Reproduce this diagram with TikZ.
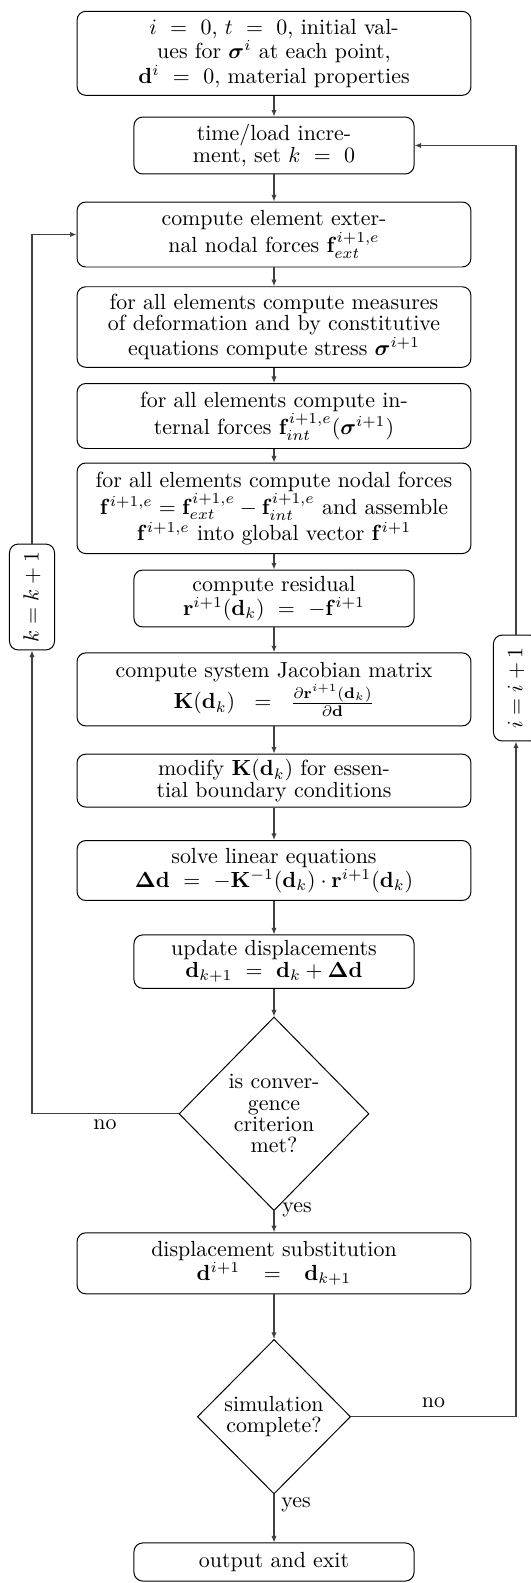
\documentclass[tikz,border=0pt]{standalone}
\usepackage{amsmath}
\usetikzlibrary{shapes.geometric,arrows.meta}

\tikzset{
  basefont/.style={font=\fontsize{10}{9.75}\selectfont},
  procbox/.style={draw=black, line width=0.45pt, rounded corners=4pt, align=center,
    inner sep=0pt, basefont, minimum height=#1},
  widebox/.style={procbox=#1, minimum width=180pt},
  narrowbox/.style={procbox=#1, minimum width=128pt},
  decision/.style={draw=black, line width=0.45pt, diamond, align=center, inner sep=0pt,
    basefont},
  counter/.style={draw=black, line width=0.45pt, rounded corners=4pt, rotate=90,
    inner sep=0pt, minimum width=48.4pt, minimum height=20.6pt, basefont},
  lbl/.style={inner sep=0pt, basefont},
  arr/.style={draw=black!75, line width=0.5pt, -{Latex[length=3pt,width=2.4pt]}},
}

\begin{document}
\begin{tikzpicture}[x=0.457pt, y=-0.457pt]
  \useasboundingbox (0,0) rectangle (531,1583);

  % main chain of steps
  \node[widebox=38.4pt] (init) at (274,53.3)
    {$i\ =\ 0$, $t\ =\ 0$, initial val-\\ues for $\boldsymbol{\sigma}^i$ at each point,\\$\mathbf{d}^i\ =\ 0$, material properties};
  \node[narrowbox=26pt] (incr) at (274,145.5)
    {time/load incre-\\ment, set $k\ =\ 0$};
  \node[widebox=29.7pt] (fext) at (274,234.5)
    {compute element exter-\\nal nodal forces $\mathbf{f}^{i+1,e}_{ext}$};
  \node[widebox=36.8pt] (stress) at (274,327)
    {for all elements compute measures\\of deformation and by constitutive\\equations compute stress $\boldsymbol{\sigma}^{i+1}$};
  \node[widebox=29.7pt] (fint) at (274,416)
    {for all elements compute in-\\ternal forces $\mathbf{f}^{i+1,e}_{int}(\boldsymbol{\sigma}^{i+1})$};
  \node[widebox=41.4pt] (assemble) at (274,508.3)
    {for all elements compute nodal forces\\$\mathbf{f}^{i+1,e}=\mathbf{f}^{i+1,e}_{ext}-\mathbf{f}^{i+1,e}_{int}$ and assemble\\$\mathbf{f}^{i+1,e}$ into global vector $\mathbf{f}^{i+1}$};
  \node[narrowbox=26pt] (resid) at (274,598.5)
    {compute residual\\$\mathbf{r}^{i+1}(\mathbf{d}_k)\ =\ -\mathbf{f}^{i+1}$};
  \node[widebox=33.4pt] (jac) at (274,689.4)
    {compute system Jacobian matrix\\$\mathbf{K}(\mathbf{d}_k)\hspace{6pt}=\hspace{6pt}\frac{\partial\mathbf{r}^{i+1}(\mathbf{d}_k)}{\partial\mathbf{d}}$};
  \node[widebox=24.2pt] (bc) at (274,780.6)
    {modify $\mathbf{K}(\mathbf{d}_k)$ for essen-\\tial boundary conditions};
  \node[widebox=27.4pt] (solve) at (274,870.5)
    {solve linear equations\\$\mathbf{\Delta d}\ =\ -\mathbf{K}^{-1}(\mathbf{d}_k)\cdot\mathbf{r}^{i+1}(\mathbf{d}_k)$};
  \node[narrowbox=24.4pt] (update) at (274,961.6)
    {update displacements\\$\mathbf{d}_{k+1}\ =\ \mathbf{d}_k+\mathbf{\Delta d}$};
  \node[decision, minimum width=86.8pt, minimum height=88.5pt] (conv) at (274,1113.8)
    {is conver-\\gence\\criterion\\met?};
  \node[widebox=27.9pt] (subst) at (274,1263.3)
    {displacement substitution\\$\mathbf{d}^{i+1}\hspace{8pt}=\hspace{8pt}\mathbf{d}_{k+1}$};
  \node[decision, minimum width=70pt, minimum height=70.6pt] (done) at (274,1416.7)
    {simulation\\complete?};
  \node[narrowbox=17.4pt] (exit) at (274,1562)
    {output and exit};

  % loop counters
  \node[counter] (kinc) at (32,597) {$k=k+1$};
  \node[counter] (iinc) at (516,688) {$i=i+1$};

  % branch labels
  \node[lbl] (convyes) at (297,1210) {yes};
  \node[lbl] (convno) at (105,1125) {no};
  \node[lbl] (doneno) at (433.5,1403) {no};
  \node[lbl] (doneyes) at (296,1505) {yes};

  % straight flow
  \draw[arr] (init) -- (incr);
  \draw[arr] (incr) -- (fext);
  \draw[arr] (fext) -- (stress);
  \draw[arr] (stress) -- (fint);
  \draw[arr] (fint) -- (assemble);
  \draw[arr] (assemble) -- (resid);
  \draw[arr] (resid) -- (jac);
  \draw[arr] (jac) -- (bc);
  \draw[arr] (bc) -- (solve);
  \draw[arr] (solve) -- (update);
  \draw[arr] (update) -- (conv);
  \draw[arr] (conv) -- (subst);
  \draw[arr] (subst) -- (done);
  \draw[arr] (done) -- (exit);

  % iteration loop (k)
  \draw[arr] (conv.west) -| (kinc.west);
  \draw[arr] (kinc.east) |- (fext.west);

  % increment loop (i)
  \draw[arr] (done.east) -| (iinc.west);
  \draw[arr] (iinc.east) |- (incr.east);
\end{tikzpicture}
\end{document}
